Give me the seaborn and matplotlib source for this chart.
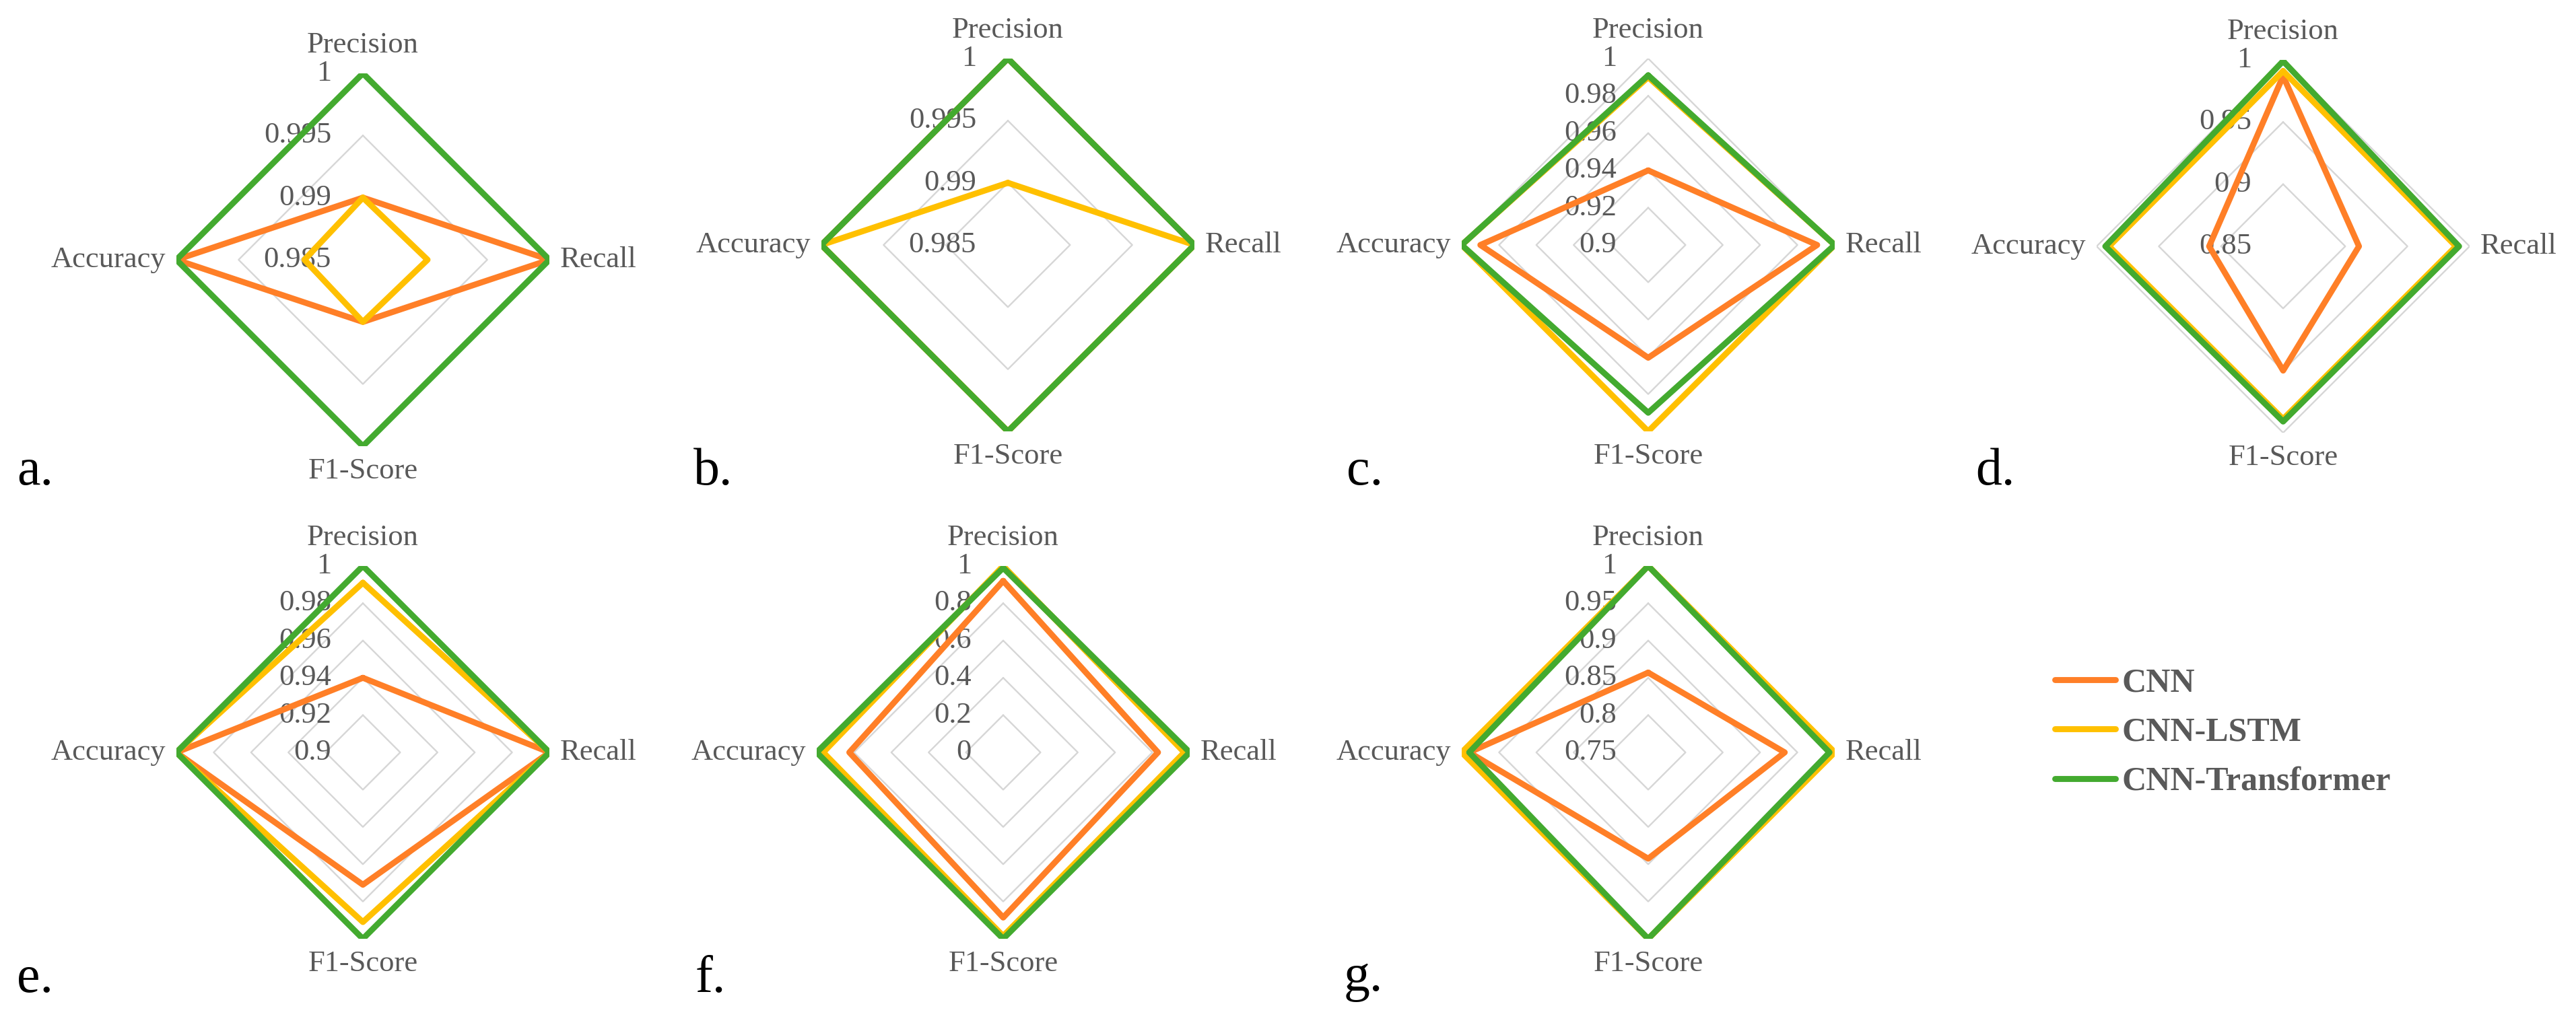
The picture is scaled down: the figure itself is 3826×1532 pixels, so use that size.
import numpy as np
import pandas as pd
import matplotlib
matplotlib.use("Agg")
import matplotlib.pyplot as plt
import seaborn as sns
from matplotlib.transforms import offset_copy
from matplotlib.lines import Line2D

# ---------------- data ----------------
metrics = ["Precision", "Recall", "F1-Score", "Accuracy"]
models = ["CNN", "CNN-LSTM", "CNN-Transformer"]
panel_letters = ["a.", "b.", "c.", "d.", "e.", "f.", "g."]

# values in metric order: Precision, Recall, F1-Score, Accuracy
cnn_a = [0.990, 1.000, 0.990, 1.000]
lstm_a = [0.990, 0.9902, 0.990, 0.9897]
trans_a = [1.000, 1.000, 1.000, 1.000]

cnn_b = [1.000, 1.000, 1.000, 1.000]
lstm_b = [0.990, 1.000, 1.000, 1.000]
trans_b = [1.000, 1.000, 1.000, 1.000]

cnn_c = [0.940, 0.9906, 0.9605, 0.990]
lstm_c = [0.990, 1.000, 1.000, 1.000]
trans_c = [0.991, 1.000, 0.990, 1.000]

cnn_d = [0.987, 0.911, 0.950, 0.9095]
lstm_d = [0.991, 0.989, 0.989, 0.990]
trans_d = [0.999, 0.9915, 0.991, 0.993]

cnn_e = [0.940, 1.000, 0.971, 1.000]
lstm_e = [0.991, 1.000, 0.991, 1.000]
trans_e = [1.000, 1.000, 1.000, 1.000]

cnn_f = [0.920, 0.830, 0.886, 0.825]
lstm_f = [1.000, 0.971, 0.985, 0.965]
trans_f = [0.990, 1.000, 1.000, 1.000]

cnn_g = [0.857, 0.933, 0.8925, 0.990]
lstm_g = [1.000, 1.000, 1.000, 1.000]
trans_g = [1.000, 0.993, 1.000, 0.990]

ticks_a = [0.985, 0.99, 0.995, 1.0]
ticks_b = [0.985, 0.99, 0.995, 1.0]
ticks_c = [0.9, 0.92, 0.94, 0.96, 0.98, 1.0]
ticks_d = [0.85, 0.9, 0.95, 1.0]
ticks_e = [0.9, 0.92, 0.94, 0.96, 0.98, 1.0]
ticks_f = [0.0, 0.2, 0.4, 0.6, 0.8, 1.0]
ticks_g = [0.75, 0.8, 0.85, 0.9, 0.95, 1.0]

ticklabels_a = ["0.985", "0.99", "0.995", "1"]
ticklabels_b = ["0.985", "0.99", "0.995", "1"]
ticklabels_c = ["0.9", "0.92", "0.94", "0.96", "0.98", "1"]
ticklabels_d = ["0.85", "0.9", "0.95", "1"]
ticklabels_e = ["0.9", "0.92", "0.94", "0.96", "0.98", "1"]
ticklabels_f = ["0", "0.2", "0.4", "0.6", "0.8", "1"]
ticklabels_g = ["0.75", "0.8", "0.85", "0.9", "0.95", "1"]

# ---------------- style ----------------
sns.set_style("white")
plt.rcParams["font.family"] = ["Liberation Serif", "DejaVu Serif"]

colors = ["#FF7F27", "#FFC000", "#43AA2F"]
grid_color = "#D6D6D6"
text_color = "#595959"

W, H = 3826, 1532
fig = plt.figure(figsize=(W / 100, H / 100), dpi=100)

# layout (pixel centres, radius) -- positions only
layout = [
    (539, 386), (1497, 364), (2448, 364), (3391, 366),
    (539, 1118), (1490, 1118), (2448, 1118),
]
R = 277
letter_pos = [
    (25, 720), (1030, 720), (2000, 720), (2934, 720),
    (25, 1474), (1033, 1474), (1996, 1472),
]

panel_series = [
    (cnn_a, lstm_a, trans_a), (cnn_b, lstm_b, trans_b), (cnn_c, lstm_c, trans_c),
    (cnn_d, lstm_d, trans_d), (cnn_e, lstm_e, trans_e), (cnn_f, lstm_f, trans_f),
    (cnn_g, lstm_g, trans_g),
]
panel_ticks = [ticks_a, ticks_b, ticks_c, ticks_d, ticks_e, ticks_f, ticks_g]
panel_ticklabels = [ticklabels_a, ticklabels_b, ticklabels_c, ticklabels_d,
                    ticklabels_e, ticklabels_f, ticklabels_g]

n = len(metrics)
angles = np.linspace(0, 2 * np.pi, n + 1)  # closed loop

for i, ((cx, cy), series, ticks, tlabels) in enumerate(
        zip(layout, panel_series, panel_ticks, panel_ticklabels)):
    ax = fig.add_axes([(cx - R) / W, 1 - (cy + R) / H, 2 * R / W, 2 * R / H],
                      projection="polar")
    ax.set_theta_zero_location("N")
    ax.set_theta_direction(-1)
    ax.patch.set_alpha(0)

    # polygonal gridlines
    for t in ticks:
        ax.plot(angles, [t] * (n + 1), color=grid_color, lw=1.7, zorder=1)

    rows = []
    for m, vals in zip(models, series):
        closed = list(vals) + [vals[0]]
        for a, v in zip(angles, closed):
            rows.append({"model": m, "angle": a, "value": v})
    df = pd.DataFrame(rows)
    sns.lineplot(data=df, x="angle", y="value", hue="model", hue_order=models,
                 palette=colors, sort=False, estimator=None, lw=6.4,
                 legend=False, ax=ax, zorder=3,
                 solid_joinstyle="round", solid_capstyle="round")

    lo, hi = ticks[0], ticks[-1]
    ax.set_ylim(lo, hi)
    ax.grid(False)
    ax.spines["polar"].set_visible(False)
    ax.set_xticks([])
    ax.set_yticks([])
    ax.set_xlabel("")
    ax.set_ylabel("")

    # radial tick labels along the top spoke
    tr = offset_copy(ax.transData, fig=fig, x=-47, y=0, units="dots")
    for t, lab in zip(ticks, tlabels):
        ax.text(0, t, lab, transform=tr, ha="right", va="center",
                fontsize=32, color=text_color, zorder=2, clip_on=False)

    # category labels
    offs = [(0, 42, "center", "center"), (16, 0, "left", "center"),
            (0, -37, "center", "center"), (-16, 0, "right", "center")]
    for ang, name, (dx, dy, ha, va) in zip(angles[:-1], metrics, offs):
        trc = offset_copy(ax.transData, fig=fig, x=dx, y=dy, units="dots")
        ax.text(ang, hi, name, transform=trc, ha=ha, va=va, fontsize=32,
                color=text_color, clip_on=False)

    lx, ly = letter_pos[i]
    fig.text(lx / W, 1 - ly / H, panel_letters[i], fontsize=56, color="black",
             ha="left", va="baseline")

handles = [Line2D([], [], color=c, lw=6.4, solid_capstyle="round") for c in colors]
fig.legend(handles=handles, labels=models, loc="upper left",
           bbox_to_anchor=(3052 / W, 1 - 992 / H), frameon=False,
           prop={"family": ["Liberation Serif"], "weight": "bold", "size": 36},
           labelcolor=text_color, handlelength=1.8, handletextpad=0.2,
           labelspacing=0.55, borderpad=0, borderaxespad=0)

fig.savefig("out.png", dpi=100, facecolor="white")
